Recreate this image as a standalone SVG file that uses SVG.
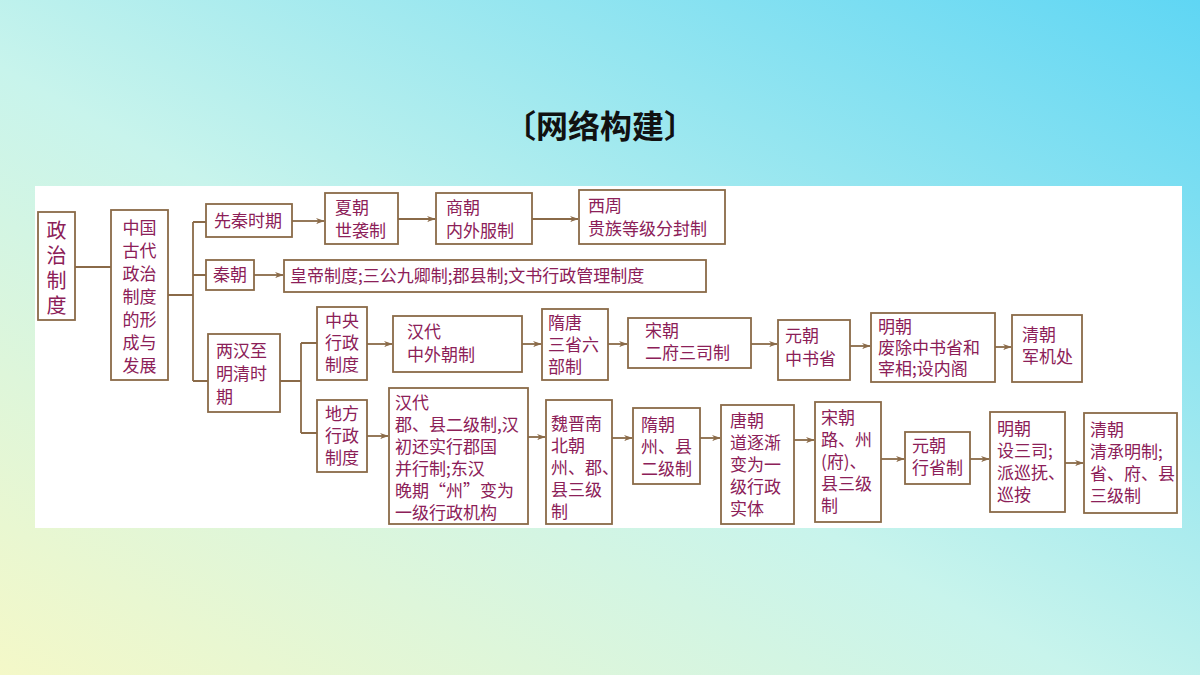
<svg xmlns="http://www.w3.org/2000/svg" width="1200" height="675" viewBox="0 0 1200 675">
<defs>
<linearGradient id="bg" x1="0" y1="1" x2="1" y2="0">
<stop offset="0" stop-color="#f4f8c8"/><stop offset="0.45" stop-color="#c8f4ec"/><stop offset="1" stop-color="#5fd6f4"/>
</linearGradient>
<marker id="ar" viewBox="0 0 10 10" refX="9" refY="5" markerWidth="9" markerHeight="9" markerUnits="userSpaceOnUse" orient="auto"><path d="M0,1.5 L10,5 L0,8.5 L3,5 Z" fill="#8a6a48"/></marker>
<style>
.b{fill:#fff;stroke:#8a6a48;stroke-width:1.8}
.t{font-family:"Noto Sans CJK SC","Liberation Sans",sans-serif;font-size:17px;fill:#8c2058}
.c{fill:none;stroke:#8a6a48;stroke-width:1.8}
.a{fill:none;stroke:#8a6a48;stroke-width:1.8;marker-end:url(#ar)}
</style>
</defs>
<rect width="1200" height="675" fill="url(#bg)"/>
<text x="600" y="138" text-anchor="middle" font-family="'Noto Sans CJK SC',sans-serif" font-size="32" font-weight="bold" fill="#111">〔网络构建〕</text>
<rect x="35" y="186" width="1147" height="342" fill="#fff"/>
<g id="connectors">
<path class="c" d="M75,267 H111"/>
<path class="c" d="M168,295 H193 M193,222 V381 M193,222 H206 M193,275 H206 M193,381 H208"/>
<path class="c" d="M280,381 H301 M301,343 V433 M301,343 H317 M301,433 H317"/>
<path class="a" d="M292,221 H324"/>
<path class="a" d="M398,219 H435"/>
<path class="a" d="M532,219 H578"/>
<path class="a" d="M254,275 H283"/>
<path class="a" d="M367,344 H392"/>
<path class="a" d="M522,344 H541"/>
<path class="a" d="M608,344 H627"/>
<path class="a" d="M751,344 H777"/>
<path class="a" d="M850,346 H870"/>
<path class="a" d="M995,347 H1011"/>
<path class="a" d="M367,436 H388"/>
<path class="a" d="M528,437 H545"/>
<path class="a" d="M612,438 H632"/>
<path class="a" d="M700,438 H720"/>
<path class="a" d="M794,440 H814"/>
<path class="a" d="M881,459 H904"/>
<path class="a" d="M970,459 H989"/>
<path class="a" d="M1065,463 H1083"/>
</g>
<g id="n1"><rect class="b" x="38" y="212" width="37" height="108"/><text class="t" style="font-size:20px"><tspan x="56.5" y="238" text-anchor="middle">政</tspan><tspan x="56.5" y="263" text-anchor="middle">治</tspan><tspan x="56.5" y="288" text-anchor="middle">制</tspan><tspan x="56.5" y="313" text-anchor="middle">度</tspan></text></g>
<g id="n2"><rect class="b" x="111" y="210" width="57" height="170"/><text class="t"><tspan x="139.5" y="234" text-anchor="middle">中国</tspan><tspan x="139.5" y="257" text-anchor="middle">古代</tspan><tspan x="139.5" y="280" text-anchor="middle">政治</tspan><tspan x="139.5" y="303" text-anchor="middle">制度</tspan><tspan x="139.5" y="326" text-anchor="middle">的形</tspan><tspan x="139.5" y="349" text-anchor="middle">成与</tspan><tspan x="139.5" y="372" text-anchor="middle">发展</tspan></text></g>
<g id="n3"><rect class="b" x="206" y="204" width="86" height="33"/><text class="t" x="214" y="227">先秦时期</text></g>
<g id="n4"><rect class="b" x="325" y="193" width="73" height="51"/><text class="t"><tspan x="335" y="214">夏朝</tspan><tspan x="335" y="237">世袭制</tspan></text></g>
<g id="n5"><rect class="b" x="436" y="193" width="96" height="51"/><text class="t"><tspan x="446" y="214">商朝</tspan><tspan x="446" y="237">内外服制</tspan></text></g>
<g id="n6"><rect class="b" x="579" y="190" width="146" height="54"/><text class="t"><tspan x="588" y="212">西周</tspan><tspan x="588" y="235">贵族等级分封制</tspan></text></g>
<g id="n7"><rect class="b" x="206" y="260" width="48" height="30"/><text class="t" x="213" y="281">秦朝</text></g>
<g id="n8"><rect class="b" x="284" y="260" width="422" height="32"/><text class="t" x="290" y="282">皇帝制度;三公九卿制;郡县制;文书行政管理制度</text></g>
<g id="n9"><rect class="b" x="208" y="334" width="72" height="78"/><text class="t"><tspan x="216" y="357">两汉至</tspan><tspan x="216" y="380">明清时</tspan><tspan x="216" y="403">期</tspan></text></g>
<g id="n10"><rect class="b" x="317" y="307" width="50" height="73"/><text class="t"><tspan x="325" y="327">中央</tspan><tspan x="325" y="349">行政</tspan><tspan x="325" y="371">制度</tspan></text></g>
<g id="n11"><rect class="b" x="393" y="316" width="129" height="56"/><text class="t"><tspan x="407" y="338">汉代</tspan><tspan x="407" y="361">中外朝制</tspan></text></g>
<g id="n12"><rect class="b" x="542" y="309" width="66" height="71"/><text class="t"><tspan x="548" y="329">隋唐</tspan><tspan x="548" y="351">三省六</tspan><tspan x="548" y="373">部制</tspan></text></g>
<g id="n13"><rect class="b" x="628" y="318" width="123" height="50"/><text class="t"><tspan x="645" y="337">宋朝</tspan><tspan x="645" y="359">二府三司制</tspan></text></g>
<g id="n14"><rect class="b" x="778" y="320" width="72" height="60"/><text class="t"><tspan x="785" y="342">元朝</tspan><tspan x="785" y="365">中书省</tspan></text></g>
<g id="n15"><rect class="b" x="871" y="313" width="124" height="69"/><text class="t"><tspan x="878" y="333">明朝</tspan><tspan x="878" y="354">废除中书省和</tspan><tspan x="878" y="375">宰相;设内阁</tspan></text></g>
<g id="n16"><rect class="b" x="1012" y="315" width="70" height="67"/><text class="t"><tspan x="1022" y="341">清朝</tspan><tspan x="1022" y="363">军机处</tspan></text></g>
<g id="n17"><rect class="b" x="317" y="400" width="50" height="72"/><text class="t"><tspan x="325" y="420">地方</tspan><tspan x="325" y="442">行政</tspan><tspan x="325" y="464">制度</tspan></text></g>
<g id="n18"><rect class="b" x="389" y="388" width="139" height="136"/><text class="t"><tspan x="395" y="409">汉代</tspan><tspan x="395" y="431">郡、县二级制,汉</tspan><tspan x="395" y="453">初还实行郡国</tspan><tspan x="395" y="475">并行制;东汉</tspan><tspan x="395" y="497">晚期“州”变为</tspan><tspan x="395" y="519">一级行政机构</tspan></text></g>
<g id="n19"><rect class="b" x="546" y="400" width="66" height="124"/><text class="t"><tspan x="551" y="430">魏晋南</tspan><tspan x="551" y="452">北朝</tspan><tspan x="551" y="474">州、郡、</tspan><tspan x="551" y="496">县三级</tspan><tspan x="551" y="518">制</tspan></text></g>
<g id="n20"><rect class="b" x="633" y="408" width="67" height="76"/><text class="t"><tspan x="641" y="431">隋朝</tspan><tspan x="641" y="453">州、县</tspan><tspan x="641" y="475">二级制</tspan></text></g>
<g id="n21"><rect class="b" x="721" y="405" width="73" height="119"/><text class="t"><tspan x="730" y="427">唐朝</tspan><tspan x="730" y="449">道逐渐</tspan><tspan x="730" y="471">变为一</tspan><tspan x="730" y="493">级行政</tspan><tspan x="730" y="515">实体</tspan></text></g>
<g id="n22"><rect class="b" x="815" y="402" width="66" height="120"/><text class="t"><tspan x="821" y="424">宋朝</tspan><tspan x="821" y="446">路、州</tspan><tspan x="821" y="468">(府)、</tspan><tspan x="821" y="490">县三级</tspan><tspan x="821" y="512">制</tspan></text></g>
<g id="n23"><rect class="b" x="905" y="432" width="65" height="52"/><text class="t"><tspan x="912" y="452">元朝</tspan><tspan x="912" y="474">行省制</tspan></text></g>
<g id="n24"><rect class="b" x="990" y="412" width="75" height="100"/><text class="t"><tspan x="997" y="435">明朝</tspan><tspan x="997" y="457">设三司;</tspan><tspan x="997" y="479">派巡抚、</tspan><tspan x="997" y="501">巡按</tspan></text></g>
<g id="n25"><rect class="b" x="1084" y="413" width="93" height="100"/><text class="t"><tspan x="1090" y="436">清朝</tspan><tspan x="1090" y="458">清承明制;</tspan><tspan x="1090" y="480">省、府、县</tspan><tspan x="1090" y="502">三级制</tspan></text></g>
</svg>
